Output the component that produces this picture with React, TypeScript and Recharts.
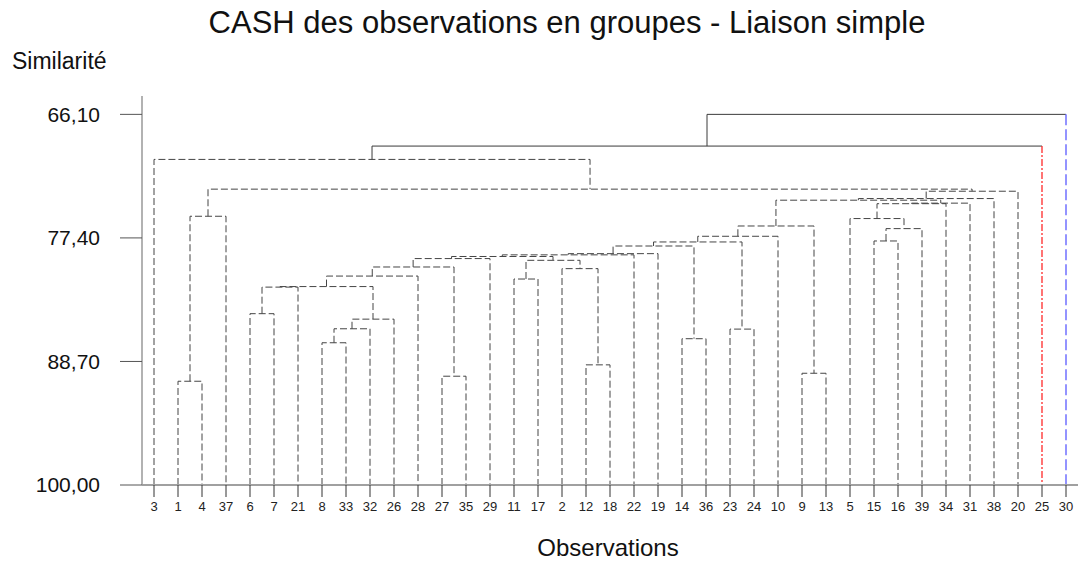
import React from 'react';
import { ComposedChart, Line, XAxis, YAxis } from 'recharts';

// Leaf order along the horizontal axis (observation labels)
const observations = ['3','1','4','37','6','7','21','8','33','32','26','28','27','35','29','11','17','2','12','18','22','19','14','36','23','24','10','9','13','5','15','16','39','34','31','38','20','25','30'];

// Merge steps: node "n<k>" joins mergeLeft[k] and mergeRight[k] at mergeSimilarity[k]
const mergeLeft = ['1','27','9','12','8','14','23','n4','n7','6','n9','n10','11','n11','2','n13','n12','n15','n17','n18','n19','n20','n21','15','n22','n23','n24','5','n0','n27','n29','n26','n31','n32','n28','3','n35','n36'];
const mergeRight = ['4','35','13','18','33','36','24','32','26','7','21','n8','17','28','n3','n1','n14','29','n16','22','19','n5','n6','16','10','39','n2','n25','37','34','31','n30','38','20','n33','n34','25','30'];
const mergeSimilarity = [90.51,90.05,89.78,89.01,86.99,86.62,85.74,85.71,84.83,84.33,81.90,81.85,81.16,80.89,80.21,80.06,79.45,79.29,79.10,78.95,78.84,78.14,77.77,77.68,77.25,76.55,76.31,75.63,75.42,74.27,74.22,73.95,73.80,73.13,72.94,70.22,69.00,66.10];

const yTicks = [66.1, 77.4, 88.7, 100];
const leafSimilarity = 100;
const yDomain: [number, number] = [64.42, 100];

const FONT = '"Liberation Sans", Arial, Helvetica, sans-serif';
const DASH_COLOR = '#454545';
const SOLID_COLOR = '#3a3a3a';
const SOLID_BELOW = 70; // merges under this similarity are drawn solid
const accent: Record<string, { stroke: string; dash: string; width: number }> = {
  '25': { stroke: '#ff2a2a', dash: '7 2 2 2', width: 1.3 },
  '30': { stroke: '#7070ff', dash: '11 4', width: 1.5 },
};

type Pt = { x: number; y: number };
type Seg = { pts: Pt[]; stroke: string; dash?: string; width: number };

function buildSegments(): Seg[] {
  const pos: Record<string, { x: number; h: number }> = {};
  observations.forEach((o, i) => (pos[o] = { x: i, h: leafSimilarity }));
  const segs: Seg[] = [];
  mergeLeft.forEach((l, k) => {
    const r = mergeRight[k];
    const h = mergeSimilarity[k];
    const a = pos[l];
    const b = pos[r];
    pos['n' + k] = { x: (a.x + b.x) / 2, h };
    if (h < SOLID_BELOW) {
      segs.push({ pts: [{ x: a.x, y: a.h }, { x: a.x, y: h }, { x: b.x, y: h }], stroke: SOLID_COLOR, width: 1 });
      const ac = accent[r];
      segs.push({
        pts: [{ x: b.x, y: h }, { x: b.x, y: b.h }],
        stroke: ac ? ac.stroke : SOLID_COLOR,
        dash: ac ? ac.dash : undefined,
        width: ac ? ac.width : 1,
      });
    } else {
      segs.push({
        pts: [{ x: a.x, y: a.h }, { x: a.x, y: h }, { x: b.x, y: h }, { x: b.x, y: b.h }],
        stroke: DASH_COLOR,
        dash: '7 3',
        width: 1,
      });
    }
  });
  return segs;
}

const segments = buildSegments();
const xTicks = observations.map((_, i) => i);

export default function App() {
  return (
    <div style={{ position: 'absolute', left: 0, top: 0, width: 1078, height: 561, fontFamily: FONT, background: '#fff' }}>
      <ComposedChart width={1078} height={561} margin={{ top: 96, right: 0, bottom: 46, left: 0 }}>
        <XAxis
          xAxisId="t"
          orientation="top"
          type="number"
          dataKey="x"
          domain={[-0.5, observations.length - 0.5]}
          height={0}
          tick={false}
          tickLine={false}
          axisLine={{ stroke: '#a0a0a0', strokeWidth: 2 }}
          allowDataOverflow
        />
        <XAxis
          xAxisId="b"
          type="number"
          dataKey="x"
          domain={[-0.5, observations.length - 0.5]}
          ticks={xTicks}
          interval={0}
          tickFormatter={(v: number) => observations[v] ?? ''}
          height={30}
          tickSize={12}
          tickMargin={5}
          tick={{ fontSize: 13, fill: '#222', fontFamily: FONT }}
          tickLine={{ stroke: '#333' }}
          axisLine={{ stroke: '#a0a0a0', strokeWidth: 2 }}
          allowDataOverflow
        />
        <YAxis
          type="number"
          domain={yDomain}
          reversed
          ticks={yTicks}
          interval={0}
          width={142}
          tickSize={22}
          tickMargin={20}
          tickFormatter={(v: number) => v.toFixed(2).replace('.', ',')}
          tick={{ fontSize: 21, fill: '#111', fontFamily: FONT }}
          tickLine={{ stroke: '#555' }}
          axisLine={{ stroke: '#999', strokeWidth: 1.5 }}
          allowDataOverflow
        />
        {segments.map((s, i) => (
          <Line
            key={i}
            xAxisId="b"
            data={s.pts}
            dataKey="y"
            type="linear"
            stroke={s.stroke}
            strokeWidth={s.width}
            strokeDasharray={s.dash}
            dot={false}
            activeDot={false}
            isAnimationActive={false}
            legendType="none"
          />
        ))}
      </ComposedChart>
      <div style={{ position: 'absolute', left: 567, top: 7, transform: 'translateX(-50%)', whiteSpace: 'nowrap', fontSize: 31, lineHeight: '31px', color: '#111' }}>
        CASH des observations en groupes - Liaison simple
      </div>
      <div style={{ position: 'absolute', left: 12, top: 50, whiteSpace: 'nowrap', fontSize: 23, lineHeight: '23px', color: '#111' }}>
        Similarité
      </div>
      <div style={{ position: 'absolute', left: 608, top: 536, transform: 'translateX(-50%)', whiteSpace: 'nowrap', fontSize: 24, lineHeight: '24px', color: '#111' }}>
        Observations
      </div>
    </div>
  );
}
